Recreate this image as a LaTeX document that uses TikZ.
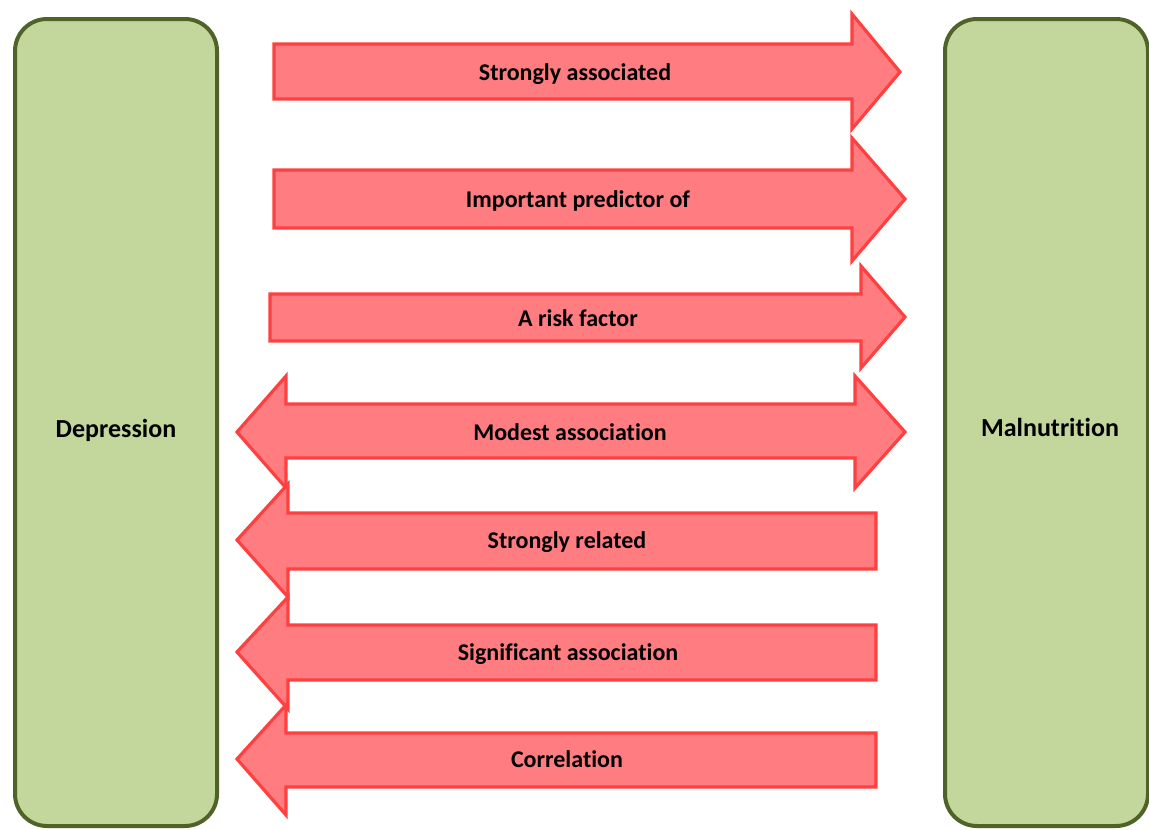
\documentclass[tikz,border=0pt]{standalone}
\usepackage{fontspec}
\setmainfont{Carlito}[Ligatures=NoCommon]
\definecolor{boxfill}{HTML}{C3D69B}
\definecolor{boxline}{HTML}{4F6228}
\definecolor{arrfill}{HTML}{FF7C80}
\definecolor{arrline}{HTML}{FF4040}
\tikzset{
  greenbox/.style={draw=boxline, fill=boxfill, line width=4pt, rounded corners=32pt},
  blockarrow/.style={draw=arrline, fill=arrfill, line width=3.2pt, line join=miter},
  arrlabel/.style={font=\fontsize{24}{28}\selectfont\bfseries, inner sep=0pt, anchor=base, yshift=-8pt},
  boxlabel/.style={font=\fontsize{26}{30}\selectfont\bfseries, inner sep=0pt, anchor=base, yshift=-9pt}
}
\begin{document}
\begin{tikzpicture}[x=1pt, y=-1pt]
        \useasboundingbox (0,0) rectangle (1149,830);

        % Boxes
        \draw[greenbox] (15,19) rectangle (217,826);
        \draw[greenbox] (945,19) rectangle (1148,826);
        \node[boxlabel] (dep) at (116,428) {Depression};
        \node[boxlabel] (mal) at (1050,427) {Malnutrition};

        % Right arrows
        \draw[blockarrow] (274,44) -- (852,44) -- (852,14) -- (900,72) -- (852,129) -- (852,99) -- (274,99) -- cycle;
        \node[arrlabel] (l1) at (575,72) {Strongly associated};

        \draw[blockarrow] (274,170) -- (852,170) -- (852,138) -- (905,199) -- (852,261) -- (852,228) -- (274,228) -- cycle;
        \node[arrlabel] (l2) at (578,199) {Important predictor of};

        \draw[blockarrow] (270,294) -- (861,294) -- (861,266) -- (905,317) -- (861,368) -- (861,341) -- (270,341) -- cycle;
        \node[arrlabel] (l3) at (578,318) {A risk factor};

        % Double arrow
        \draw[blockarrow] (237,432) -- (286,376) -- (286,404) -- (855,404) -- (855,376) -- (905,432) -- (855,488) -- (855,458) -- (286,458) -- (286,488) -- cycle;
        \node[arrlabel] (l4) at (570,432) {Modest association};

        % Left arrows
        \draw[blockarrow] (237,540) -- (288,484) -- (288,513) -- (876,513) -- (876,569) -- (288,569) -- (288,597) -- cycle;
        \node[arrlabel] (l5) at (567,540) {Strongly related};

        \draw[blockarrow] (237,652) -- (288,597) -- (288,625) -- (876,625) -- (876,680) -- (288,680) -- (288,709) -- cycle;
        \node[arrlabel] (l6) at (568,652) {Significant association};

        \draw[blockarrow] (237,759) -- (286,705) -- (286,733) -- (876,733) -- (876,787) -- (286,787) -- (286,815) -- cycle;
        \node[arrlabel] (l7) at (567,759) {Correlation};
    \end{tikzpicture}
\end{document}
